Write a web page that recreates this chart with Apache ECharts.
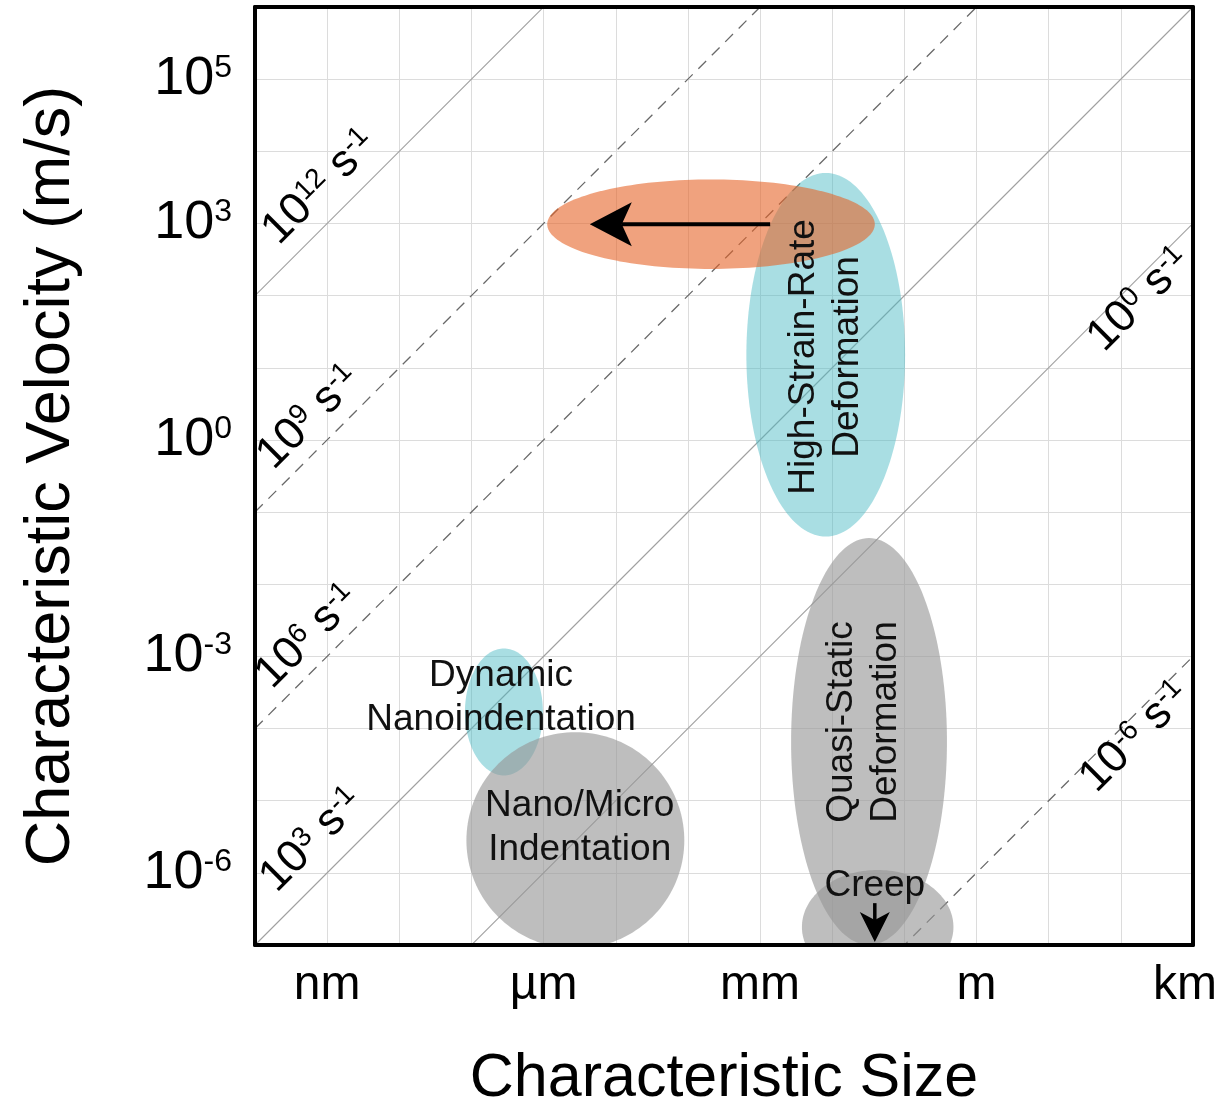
<!DOCTYPE html>
<html>
<head>
<meta charset="utf-8">
<script src="https://cdn.jsdelivr.net/npm/echarts@6/dist/echarts.min.js"></script>
<style>
html,body{margin:0;padding:0;background:#fff;}
#c{width:1225px;height:1108px;}
</style>
</head>
<body>
<div id="c"></div>
<script>
// ---------- DATA (all values are log10 exponents: size in m, velocity in m/s) ----------
const sizeRange = [-10, 3];
const velRange = [-7, 6];
const sizeTickExps = [-9, -6, -3, 0, 3];
const sizeTickLabels = ['nm', 'µm', 'mm', 'm', 'km'];
const velTickExps = [5, 3, 0, -3, -6];

// strain-rate iso-lines (s^-1), velocity = rate * size
const rateExps = [12, 9, 6, 3, 0, -6];
const rateLabelAt = [-8.80, -8.97, -9.00, -8.88, 2.10, 2.04];
const rateLabelShift = [-0.30, -0.28, -0.27, -0.33, 0.16, 0.16];

// regimes drawn as ellipses in log-log space (drawing order)
const regionNames = ['High-Strain-Rate', 'High-Strain-Rate (small scale)', 'Quasi-Static', 'Creep', 'Dynamic Nanoindentation', 'Nano/Micro Indentation'];
const regionSizeExp = [-2.09, -3.68, -1.49, -1.37, -6.55, -5.56];
const regionVelExp  = [1.18, 2.99, -4.18, -6.75, -3.77, -5.55];
const regionSizeHalfSpan = [1.10, 2.27, 1.08, 1.05, 0.54, 1.51];
const regionVelHalfSpan  = [2.52, 0.62, 2.82, 0.79, 0.88, 1.50];

const labelTexts = ['High-Strain-Rate\nDeformation', 'Quasi-Static\nDeformation', 'Creep', 'Dynamic\nNanoindentation', 'Nano/Micro\nIndentation'];
const labelSizeExp = [-2.09, -1.56, -1.41, -6.59, -5.50];
const labelVelExp  = [1.15, -3.91, -6.18, -3.57, -5.37];

const arrowFromSize = [-2.86, -1.41];
const arrowFromVel  = [2.99, -6.42];
const arrowToSize   = [-5.36, -1.41];
const arrowToVel    = [2.99, -6.96];

// ---------- STYLES ----------
const FONT = 'Liberation Sans, Arial, Helvetica, sans-serif';
const CYAN = 'rgba(72,185,196,0.47)';
const GRAY = 'rgba(150,150,150,0.62)';
const ORANGE = 'rgba(230,100,40,0.6)';
const regionFill = {
  'High-Strain-Rate': CYAN,
  'High-Strain-Rate (small scale)': ORANGE,
  'Quasi-Static': GRAY,
  'Creep': GRAY,
  'Dynamic Nanoindentation': CYAN,
  'Nano/Micro Indentation': GRAY
};
const labelVertical = {'High-Strain-Rate\nDeformation': true, 'Quasi-Static\nDeformation': true};
const dashedRates = {9: true, 6: true, '-6': true};

const chart = echarts.init(document.getElementById('c'), null, {renderer: 'canvas'});

const gridRect = {left: 255, top: 7, width: 938, height: 938};

function frameAxis(pos, isX) {
  return {
    type: 'value', min: isX ? sizeRange[0] : velRange[0], max: isX ? sizeRange[1] : velRange[1],
    interval: 1, position: pos, z: 10,
    axisLine: {show: true, onZero: false, lineStyle: {color: '#000', width: 4}},
    axisTick: {show: false}, axisLabel: {show: false}, splitLine: {show: false}
  };
}

const rateSeries = rateExps.map(function (r) {
  return {
    type: 'line', z: 1, silent: true, showSymbol: false, clip: true,
    data: [[sizeRange[0], sizeRange[0] + r], [sizeRange[1], sizeRange[1] + r]],
    lineStyle: dashedRates[r]
      ? {color: '#6a6a6a', width: 1.3, type: [11, 8]}
      : {color: '#a0a0a0', width: 1.1, type: 'solid'}
  };
});

const option = {
  backgroundColor: '#fff',
  animation: false,
  grid: Object.assign({show: false, containLabel: false, outerBoundsMode: 'none'}, gridRect),
  xAxis: [
    {
      type: 'value', min: sizeRange[0], max: sizeRange[1], interval: 1, position: 'bottom',
      axisLine: {show: false}, axisTick: {show: false},
      splitLine: {show: true, lineStyle: {color: '#dcdcdc', width: 1}},
      axisLabel: {
        margin: 17, fontSize: 48, color: '#000', fontFamily: FONT,
        formatter: function (v) {
          const i = sizeTickExps.indexOf(Math.round(v));
          if (i < 0) return '';
          if (i === sizeTickExps.length - 1) return '{r|' + sizeTickLabels[i] + '}';
          return sizeTickLabels[i];
        },
        rich: {r: {fontSize: 48, color: '#000', fontFamily: FONT, padding: [0, 16, 0, 0]}}
      },
      name: 'Characteristic Size', nameLocation: 'middle', nameGap: 104,
      nameTextStyle: {fontSize: 61, color: '#000', fontFamily: FONT}
    },
    frameAxis('bottom', true),
    frameAxis('top', true)
  ],
  yAxis: [
    {
      type: 'value', min: velRange[0], max: velRange[1], interval: 1, position: 'left',
      axisLine: {show: false}, axisTick: {show: false},
      splitLine: {show: true, lineStyle: {color: '#dcdcdc', width: 1}},
      axisLabel: {
        margin: 23, fontSize: 54, lineHeight: 54, color: '#000', fontFamily: FONT,
        formatter: function (v) {
          const e = Math.round(v);
          if (velTickExps.indexOf(e) < 0) return '';
          return '{n|10}{p|' + e + '}';
        },
        rich: {
          n: {fontSize: 54, lineHeight: 54, color: '#000', fontFamily: FONT},
          p: {fontSize: 32, lineHeight: 32, color: '#000', fontFamily: FONT, verticalAlign: 'top'}
        }
      },
      name: 'Characteristic Velocity (m/s)', nameLocation: 'middle', nameGap: 172,
      nameTextStyle: {fontSize: 63, color: '#000', fontFamily: FONT}
    },
    frameAxis('left', false),
    frameAxis('right', false)
  ],
  series: rateSeries.concat([
    {
      // regimes as ellipses in log-log space
      type: 'custom', z: 2, clip: true, silent: true,
      data: regionNames.map(function (n, i) {
        return [regionSizeExp[i], regionVelExp[i], regionSizeHalfSpan[i], regionVelHalfSpan[i]];
      }),
      renderItem: function (params, api) {
        const cx = api.value(0), cy = api.value(1), rx = api.value(2), ry = api.value(3);
        const pts = [];
        const N = 160;
        for (let k = 0; k < N; k++) {
          const t = k / N * Math.PI * 2;
          pts.push(api.coord([cx + rx * Math.cos(t), cy + ry * Math.sin(t)]));
        }
        return {type: 'polygon', shape: {points: pts},
          style: {fill: regionFill[regionNames[params.dataIndex]], stroke: null}};
      }
    },
    {
      // arrows
      type: 'custom', z: 3, clip: false, silent: true,
      data: arrowFromSize.map(function (s, i) {
        return [s, arrowFromVel[i], arrowToSize[i], arrowToVel[i]];
      }),
      renderItem: function (params, api) {
        const p0 = api.coord([api.value(0), api.value(1)]);
        const p1 = api.coord([api.value(2), api.value(3)]);
        const dx = p1[0] - p0[0], dy = p1[1] - p0[1];
        const len = Math.sqrt(dx * dx + dy * dy);
        const ux = dx / len, uy = dy / len, nx = -uy, ny = ux;
        const big = params.dataIndex === 0;
        const hl = big ? 42 : 30, hw = big ? 22 : 15, notch = big ? 10 : 8, lw = big ? 4 : 3.5;
        const base = [p1[0] - ux * hl, p1[1] - uy * hl];
        const np = [p1[0] - ux * (hl - notch), p1[1] - uy * (hl - notch)];
        return {type: 'group', children: [
          {type: 'line', shape: {x1: p0[0], y1: p0[1], x2: np[0], y2: np[1]},
            style: {stroke: '#000', lineWidth: lw}},
          {type: 'polygon', shape: {points: [p1, [base[0] + nx * hw, base[1] + ny * hw], np, [base[0] - nx * hw, base[1] - ny * hw]]},
            style: {fill: '#000'}}
        ]};
      }
    },
    {
      // region labels
      type: 'custom', z: 4, clip: false, silent: true,
      data: labelTexts.map(function (t, i) { return [labelSizeExp[i], labelVelExp[i]]; }),
      renderItem: function (params, api) {
        const p = api.coord([api.value(0), api.value(1)]);
        const txt = labelTexts[params.dataIndex];
        return {type: 'text', x: p[0], y: p[1], rotation: labelVertical[txt] ? Math.PI / 2 : 0,
          style: {text: txt, fontSize: 37, lineHeight: 44, fontFamily: FONT, fill: '#111',
            align: 'center', verticalAlign: 'middle'}};
      }
    },
    {
      // strain-rate labels placed along their iso-lines
      type: 'custom', z: 4, clip: false, silent: true,
      data: rateExps.map(function (r, i) {
        return [rateLabelAt[i] + rateLabelShift[i], rateLabelAt[i] + r - rateLabelShift[i], r];
      }),
      renderItem: function (params, api) {
        const p = api.coord([api.value(0), api.value(1)]);
        const r = api.value(2);
        return {type: 'text', x: p[0], y: p[1], rotation: Math.PI / 4,
          style: {text: '{n|10}{p|' + r + '}{n| s}{p|-1}', fontFamily: FONT, fill: '#000',
            align: 'center', verticalAlign: 'middle',
            rich: {
              n: {fontSize: 45, lineHeight: 45, fontFamily: FONT, fill: '#000'},
              p: {fontSize: 28, lineHeight: 28, fontFamily: FONT, fill: '#000', verticalAlign: 'top'}
            }}};
      }
    }
  ])
};

chart.setOption(option);
</script>
</body>
</html>
